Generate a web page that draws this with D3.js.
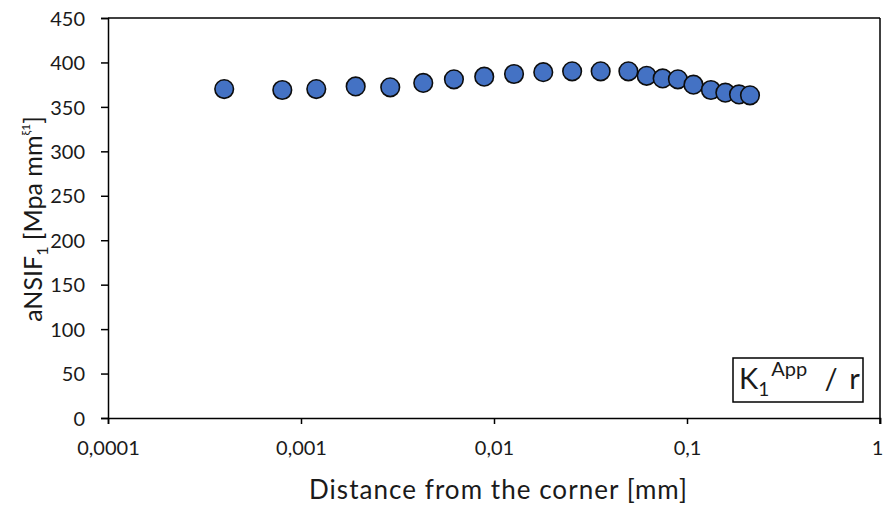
<!DOCTYPE html>
<html lang="en">
<head>
<meta charset="UTF-8">
<title>aNSIF vs distance</title>
<script src="https://d3js.org/d3.v7.min.js"></script>
<style>
  body { margin: 0; background: #fff; font-family: Lato, sans-serif; }
  svg text { fill: #1a1a1a; font-family: Lato, sans-serif; }
</style>
</head>
<body>
<svg width="884" height="506"></svg>
<script>
  // data
  const distance = [0.0004, 0.0008, 0.0012, 0.00192, 0.0029, 0.0043, 0.0062, 0.0089, 0.0127,
                    0.018, 0.0254, 0.0357, 0.0497, 0.0618, 0.0748, 0.0897, 0.108, 0.133,
                    0.158, 0.186, 0.212];
  const ansif = [370, 369, 370, 373, 372, 377, 381, 384, 387, 389, 390, 390, 390,
                 385, 382, 381, 375, 369, 366, 364, 363];
  const xTicks = [0.0001, 0.001, 0.01, 0.1, 1];
  const xTickLabels = ["0,0001", "0,001", "0,01", "0,1", "1"];
  const yTicks = [0, 50, 100, 150, 200, 250, 300, 350, 400, 450];

  const svg = d3.select("svg");
  const pLeft = 108, pRight = 880, pTop = 18, pBottom = 418;

  const x = d3.scaleLog().domain([0.0001, 1]).range([pLeft, pRight]);
  const y = d3.scaleLinear().domain([0, 450]).range([pBottom, pTop]);

  // frame (top and right)
  svg.append("line").attr("x1", pLeft).attr("x2", pRight).attr("y1", pTop).attr("y2", pTop)
    .attr("stroke", "#000").attr("stroke-width", 1.5);
  svg.append("line").attr("x1", pRight).attr("x2", pRight).attr("y1", pTop).attr("y2", pBottom + 6)
    .attr("stroke", "#000").attr("stroke-width", 1.5);

  const xAxis = svg.append("g").attr("transform", `translate(0,${pBottom})`)
    .call(d3.axisBottom(x).tickValues(xTicks).tickFormat((d, i) => xTickLabels[i]).tickSize(6).tickPadding(17));
  const yAxis = svg.append("g").attr("transform", `translate(${pLeft},0)`)
    .call(d3.axisLeft(y).tickValues(yTicks).tickSize(7).tickPadding(16));

  [xAxis, yAxis].forEach(g => {
    g.select(".domain").attr("stroke", "#000").attr("stroke-width", 1.5);
    g.selectAll(".tick line").attr("stroke", "#000").attr("stroke-width", 1.5);
    g.selectAll(".tick text").attr("font-size", 20).attr("font-family", "Lato, sans-serif").attr("fill", "#1a1a1a");
  });
  yAxis.selectAll(".tick text").attr("dy", "0.36em");
  xAxis.selectAll(".tick:last-of-type text").attr("dx", -3);

  svg.append("g").selectAll("circle")
    .data(distance)
    .join("circle")
    .attr("cx", d => x(d))
    .attr("cy", (d, i) => y(ansif[i]))
    .attr("r", 9.3)
    .attr("fill", "#4472C4")
    .attr("stroke", "#0d0d0d")
    .attr("stroke-width", 1.6);

  // axis titles
  svg.append("text").attr("x", 498).attr("y", 499).attr("text-anchor", "middle")
    .attr("font-size", 26).attr("textLength", 378).attr("lengthAdjust", "spacing")
    .text("Distance from the corner [mm]");

  const yt = svg.append("text").attr("transform", "translate(42,219) rotate(-90)")
    .attr("text-anchor", "middle").attr("font-size", 25);
  yt.append("tspan").text("aNSIF");
  yt.append("tspan").attr("font-size", 16).attr("dy", 6).text("1");
  yt.append("tspan").attr("dy", -6).text(" [Mpa mm");
  yt.append("tspan").attr("font-size", 12).attr("dy", -12).text("ξ1");
  yt.append("tspan").attr("dy", 12).text("]");

  // label box
  svg.append("rect").attr("x", 733).attr("y", 358).attr("width", 130).attr("height", 44)
    .attr("fill", "#fff").attr("stroke", "#000").attr("stroke-width", 1.5);
  const lb = svg.append("text").attr("x", 739).attr("y", 389).attr("font-size", 29);
  lb.append("tspan").text("K");
  lb.append("tspan").attr("font-size", 19).attr("dy", 7).text("1");
  lb.append("tspan").attr("font-size", 20).attr("dy", -20).attr("dx", 2).text("App");
  lb.append("tspan").attr("dy", 13).attr("dx", 6).text(" / r").attr("word-spacing", 4);
</script>
</body>
</html>
